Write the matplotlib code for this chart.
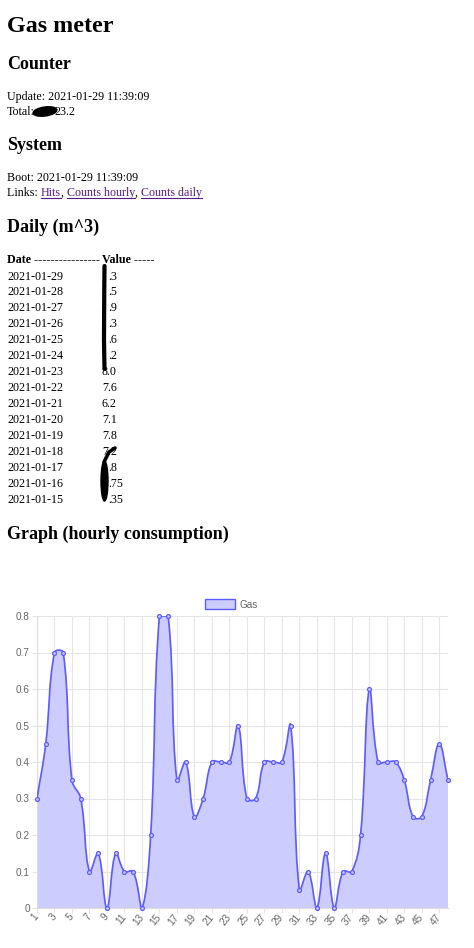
import numpy as np
import matplotlib
matplotlib.use('Agg')
import matplotlib.pyplot as plt
from matplotlib.path import Path
from matplotlib.patches import PathPatch, Rectangle, Ellipse

W, H = 474, 948
PX = 0.72  # points per pixel at dpi 100

# ---------------- data ----------------
hours = list(range(1, 49))
gas = [0.3, 0.45, 0.7, 0.7, 0.35, 0.3, 0.1, 0.15, 0.0, 0.15, 0.1, 0.1,
       0.0, 0.2, 0.8, 0.8, 0.35, 0.4, 0.25, 0.3, 0.4, 0.4, 0.4, 0.5,
       0.3, 0.3, 0.4, 0.4, 0.4, 0.5, 0.05, 0.1, 0.0, 0.15, 0.0, 0.1,
       0.1, 0.2, 0.6, 0.4, 0.4, 0.4, 0.35, 0.25, 0.25, 0.35, 0.45, 0.35]
y_ticks = [0, 0.1, 0.2, 0.3, 0.4, 0.5, 0.6, 0.7, 0.8]
y_tick_labels = ['0', '0.1', '0.2', '0.3', '0.4', '0.5', '0.6', '0.7', '0.8']
x_tick_hours = list(range(1, 49, 2))
series_label = 'Gas'

dates = ['2021-01-29', '2021-01-28', '2021-01-27', '2021-01-26', '2021-01-25',
         '2021-01-24', '2021-01-23', '2021-01-22', '2021-01-21', '2021-01-20',
         '2021-01-19', '2021-01-18', '2021-01-17', '2021-01-16', '2021-01-15']
values_visible = ['.3', '.5', '.9', '.3', '.6', '.2', '8.0', '7.6', '6.2',
                  '7.1', '7.8', '7.2', '.8', '.75', '.35']
value_first_digit_hidden = [True, True, True, True, True, True, False, False,
                            False, False, False, False, True, True, True]

update_text = 'Update: 2021-01-29 11:39:09'
total_label = 'Total:'
total_visible = '23.2'
boot_text = 'Boot: 2021-01-29 11:39:09'
links = ['Hits', 'Counts hourly', 'Counts daily']

# ---------------- figure ----------------
fig = plt.figure(figsize=(W / 100, H / 100), dpi=100)
fig.patch.set_facecolor('white')
ax0 = fig.add_axes([0, 0, 1, 1])
ax0.set_xlim(0, W)
ax0.set_ylim(H, 0)
ax0.axis('off')

SERIF = 'Liberation Serif'
SANS = 'Liberation Sans'
BODY = 12 * PX
H2 = 18 * PX
H1 = 24 * PX


def txt(x, y, s, size=BODY, bold=False, color='black', **kw):
    return ax0.text(x, y, s, fontsize=size, family=SERIF,
                    fontweight='bold' if bold else 'normal', color=color,
                    va='baseline', ha='left', **kw)


txt(7, 31.5, 'Gas meter', H1, True)
txt(7, 69, 'Counter', H2, True)
txt(7, 100, update_text)
txt(7, 115, total_label)
txt(54, 115, total_visible)
ax0.add_patch(Ellipse((45, 111.5), 24, 9, angle=-8, color='black', zorder=5))
txt(7, 150, 'System', H2, True)
txt(7, 181, boot_text)

# Links line
renderer = fig.canvas.get_renderer()
LINK = '#551A8B'
t = txt(7, 196, 'Links: ')
x = t.get_window_extent(renderer).x1
for i, name in enumerate(links):
    tl = txt(x, 196, name, color=LINK)
    ext = tl.get_window_extent(renderer)
    ax0.plot([ext.x0, ext.x1], [198, 198], color=LINK, lw=0.8)
    x = ext.x1
    if i < len(links) - 1:
        tc = txt(x, 196, ', ')
        x = tc.get_window_extent(renderer).x1

txt(7, 231.5, 'Daily (m^3)', H2, True)
txt(7, 262.7, 'Date ----------------', BODY, True)
txt(102, 262.7, 'Value -----', BODY, True)
row0, dy = 279.5, 15.95
for i, (d, v, hid) in enumerate(zip(dates, values_visible, value_first_digit_hidden)):
    yy = row0 + i * dy
    txt(7, yy, d)
    txt(108 if hid else 102, yy, v)

# redaction strokes
ax0.plot([104.5, 104.2, 104.0, 104.5], [266, 300, 340, 369], color='black',
         lw=4.2 * PX, solid_capstyle='round', zorder=5)
ax0.plot([115, 109, 104], [448, 452, 462], color='black', lw=3.6 * PX,
         solid_capstyle='round', zorder=5)
ax0.add_patch(Ellipse((104.5, 481), 7, 40, color='black', zorder=5))

txt(7, 539.3, 'Graph (hourly consumption)', H2, True)

# ---------------- chart ----------------
L, R, T, B = 37, 448, 616, 908
ax = fig.add_axes([L / W, (H - B) / H, (R - L) / W, (B - T) / H])
ax.set_xlim(1, 48)
ax.set_ylim(0, 0.8)

LINE = (0.36, 0.36, 1.0)
FILL = (0.8, 0.8, 1.0)
GRID = '#e5e5e5'

# Chart.js style spline (tension 0.4) computed in pixel space
xs = np.array(hours, dtype=float)
ys = np.array(gas, dtype=float)
sx = (R - L) / (48 - 1)
sy = (B - T) / 0.8
px = (xs - 1) * sx
py = ys * sy
n = len(xs)
tension = 0.4
cp_prev = np.zeros((n, 2))
cp_next = np.zeros((n, 2))
for i in range(n):
    p0 = np.array([px[max(i - 1, 0)], py[max(i - 1, 0)]])
    p1 = np.array([px[i], py[i]])
    p2 = np.array([px[min(i + 1, n - 1)], py[min(i + 1, n - 1)]])
    d01 = np.hypot(*(p1 - p0))
    d12 = np.hypot(*(p2 - p1))
    tot = d01 + d12
    s01 = d01 / tot if tot else 0
    s12 = d12 / tot if tot else 0
    fa, fb = tension * s01, tension * s12
    cp_prev[i] = p1 - fa * (p2 - p0)
    cp_next[i] = p1 + fb * (p2 - p0)


def to_data(p):
    xd = p[0] / sx + 1
    yd = p[1] / sy
    return (min(max(xd, 1), 48), min(max(yd, 0), 0.8))


verts = [(xs[0], ys[0])]
codes = [Path.MOVETO]
for i in range(n - 1):
    verts += [to_data(cp_next[i]), to_data(cp_prev[i + 1]), (xs[i + 1], ys[i + 1])]
    codes += [Path.CURVE4] * 3
line_path = Path(verts, codes)
fill_path = Path(verts + [(xs[-1], 0), (xs[0], 0), (xs[0], ys[0])],
                 codes + [Path.LINETO, Path.LINETO, Path.CLOSEPOLY])

ax.add_patch(PathPatch(fill_path, facecolor=FILL, edgecolor='none', zorder=2))
ax.add_patch(PathPatch(line_path, facecolor='none', edgecolor=LINE,
                       lw=1.7 * PX, zorder=3))
ax.plot(hours, gas, linestyle='none', marker='o', ms=2.8, mfc=FILL, mec=LINE,
        mew=0.9, zorder=4, clip_on=False)

ax.set_xticks(x_tick_hours)
ax.set_xticklabels([str(h) for h in x_tick_hours])
ax.set_yticks(y_ticks)
ax.set_yticklabels(y_tick_labels)
ax.grid(True, color=GRID, lw=0.8, zorder=0)
ax.set_axisbelow(True)
for s in ['top', 'right']:
    ax.spines[s].set_visible(False)
for s in ['left', 'bottom']:
    ax.spines[s].set_color('#dcdcdc')
    ax.spines[s].set_linewidth(0.8)
ax.tick_params(axis='both', colors=GRID, length=5 * PX, width=0.8,
               labelcolor='#666666', labelsize=10 * PX)
ax.tick_params(axis='y', pad=1.5)
ax.tick_params(axis='x', pad=1.5)
for lab in ax.get_xticklabels():
    lab.set_family(SANS)
    lab.set_rotation(50)
    lab.set_ha('right')
    lab.set_va('center')
    lab.set_rotation_mode('anchor')
for lab in ax.get_yticklabels():
    lab.set_family(SANS)

# legend
ax0.add_patch(Rectangle((205, 599), 30, 10, facecolor=FILL, edgecolor=LINE,
                        lw=1.0))
ax0.text(240, 604.5, series_label, fontsize=10 * PX, family=SANS,
         color='#666666', va='center', ha='left')

fig.savefig('out.png', dpi=100)
